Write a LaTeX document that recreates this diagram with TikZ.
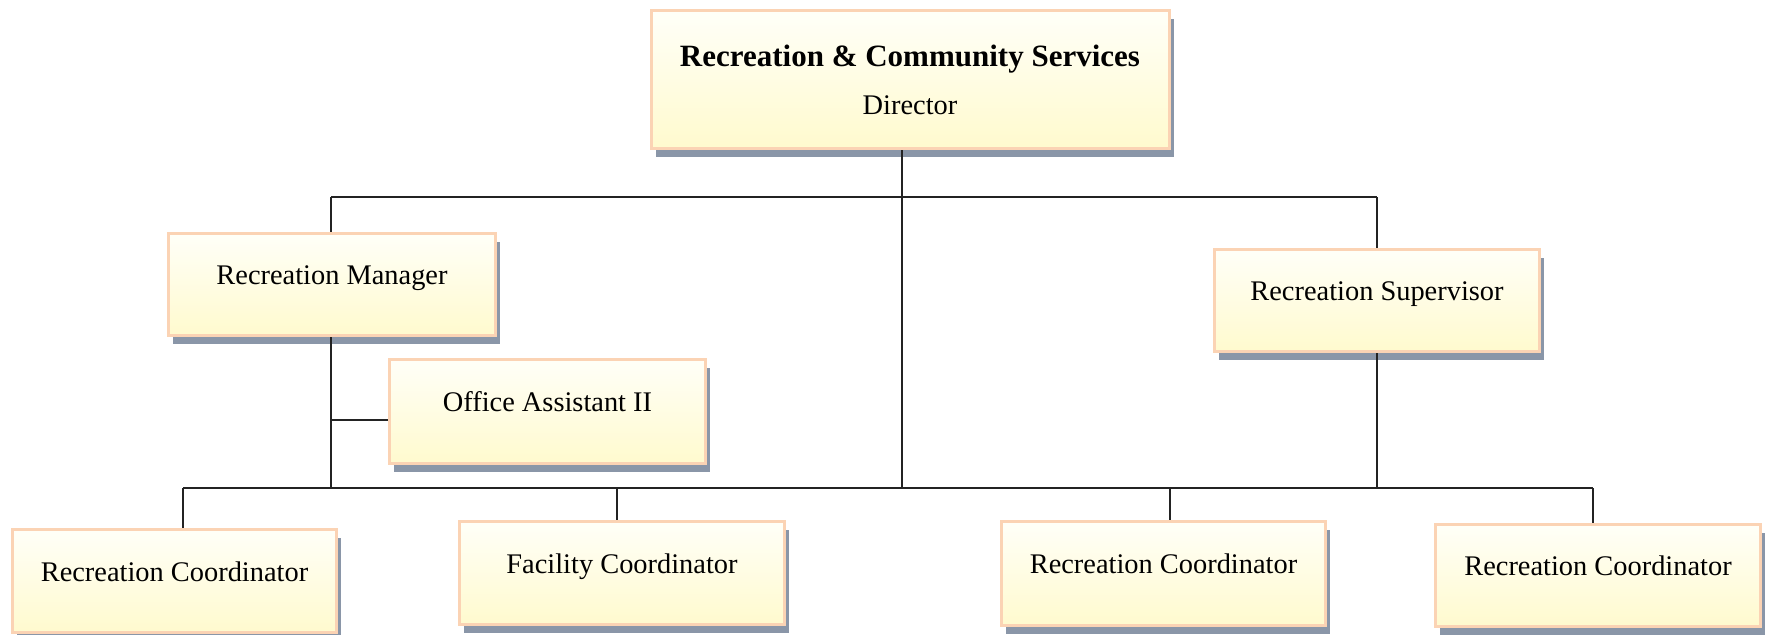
\documentclass[tikz,border=0pt]{standalone}
\usepackage{fontspec}
\setmainfont{Liberation Serif}
\usetikzlibrary{shadows}
\definecolor{boxedge}{RGB}{251,211,180}
\definecolor{boxtop}{RGB}{255,255,248}
\definecolor{boxbot}{RGB}{255,250,206}
\definecolor{boxshade}{RGB}{138,150,168}
\definecolor{wirecol}{RGB}{35,35,35}

\begin{document}
\begin{tikzpicture}[x=0.5pt,y=-0.5pt,
  orgbox/.style={rectangle, draw=boxedge, line width=1.5pt,
    top color=boxtop, bottom color=boxbot, inner sep=0pt,
    font=\fontsize{14.2}{17}\selectfont, text height=6pt, text depth=6pt,
    drop shadow={shadow xshift=2.3pt, shadow yshift=-4pt,
      fill=boxshade, opacity=1}},
  wire/.style={draw=wirecol, line width=1pt}]

  % canvas
  \useasboundingbox (0,0) rectangle (1769,634);

  % boxes
  \node[orgbox, minimum width=259pt, minimum height=68.8pt, align=center,
        text height=, text depth=, font=\fontsize{14.2}{24}\selectfont]
    (dir) at (910,79.7)
    {{\fontsize{15.5}{18}\selectfont\bfseries Recreation \& Community Services}\\Director};
  \node[orgbox, minimum width=163.5pt, minimum height=51pt] (mgr) at (332,284.5) {Recreation Manager};
  \node[orgbox, minimum width=158pt, minimum height=52pt] (oa) at (547.5,411.5) {Office Assistant II};
  \node[orgbox, minimum width=162.5pt, minimum height=51pt] (sup) at (1377,300.5) {Recreation Supervisor};
  \node[orgbox, minimum width=162pt, minimum height=51.5pt] (rc1) at (174.5,581) {Recreation Coordinator};
  \node[orgbox, minimum width=162.5pt, minimum height=51.5pt] (fac) at (622,573) {Facility Coordinator};
  \node[orgbox, minimum width=162pt, minimum height=52pt] (rc2) at (1163.5,573.5) {Recreation Coordinator};
  \node[orgbox, minimum width=162.5pt, minimum height=51pt] (rc3) at (1598,575.5) {Recreation Coordinator};

  % junction points of the two buses
  \coordinate (dirTap) at (902,197);
  \coordinate (mgrTap) at (331,197);
  \coordinate (supTap) at (1377,197);
  \coordinate (oaTap)  at (331,420);
  \coordinate (rc1Tap) at (183,488);
  \coordinate (facTap) at (617,488);
  \coordinate (midTap) at (902,488);
  \coordinate (rc2Tap) at (1170,488);
  \coordinate (rc3Tap) at (1593,488);

  % connectors
  \draw[wire] (mgrTap) -- (supTap);
  \draw[wire] (rc1Tap) -- (rc3Tap);
  \draw[wire] (dir.south -| dirTap) -- (midTap);
  \draw[wire] (mgrTap) -- (mgr.north -| mgrTap);
  \draw[wire] (supTap) -- (sup.north -| supTap);
  \draw[wire] (mgr.south -| mgrTap) -- (mgrTap |- rc1Tap);
  \draw[wire] (sup.south -| supTap) -- (supTap |- rc1Tap);
  \draw[wire] (oaTap) -- (oaTap -| oa.west);
  \draw[wire] (rc1Tap) -- (rc1.north -| rc1Tap);
  \draw[wire] (facTap) -- (fac.north -| facTap);
  \draw[wire] (rc2Tap) -- (rc2.north -| rc2Tap);
  \draw[wire] (rc3Tap) -- (rc3.north -| rc3Tap);
\end{tikzpicture}
\end{document}
